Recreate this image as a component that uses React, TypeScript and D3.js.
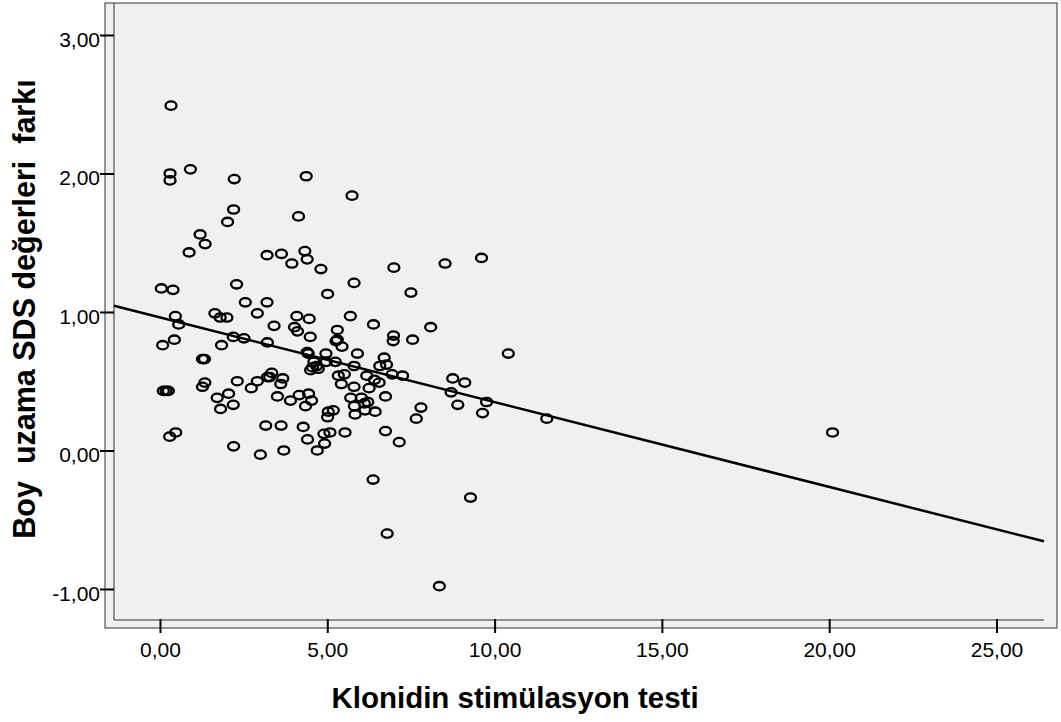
import React, { useRef, useEffect } from "react";
import * as d3 from "d3";

// klonidin test (x) vs boy uzama SDS farkı (y)
const klonidin = [
  0.33, 0.3, 0.3, 0.91, 2.22, 4.37, 5.74, 2.2, 2.02, 4.14, 1.2, 1.35, 0.87, 3.2, 3.63, 3.94, 4.33, 4.4, 4.81, 6.99,
  0.04, 0.39, 2.29, 5.01, 5.8, 2.55, 3.2, 2.91, 0.46, 0.56, 1.64, 1.8, 2.0, 3.41, 4.09, 4.46, 4.02, 5.3, 5.69, 6.38,
  4.11, 4.49, 5.3, 5.26, 5.44, 6.98, 6.97, 0.08, 0.43, 1.84, 2.19, 2.51, 3.21, 4.4, 4.43, 4.96, 5.24, 5.9, 4.6, 4.68,
  4.56, 4.5, 4.73, 4.97, 5.8, 6.7, 6.57, 6.77, 6.94, 7.25, 5.33, 5.51, 5.42, 5.8, 6.18, 6.25, 6.41, 6.55, 6.74, 5.7,
  6.02, 6.11, 6.21, 5.81, 5.83, 6.13, 6.43, 0.1, 0.18, 0.25, 1.27, 1.33, 1.34, 1.27, 1.71, 2.05, 1.81, 2.19, 2.31, 2.73,
  2.91, 3.21, 3.34, 3.28, 3.67, 3.61, 3.51, 3.9, 4.16, 4.44, 4.53, 4.35, 5.03, 5.18, 5.01, 3.16, 3.62, 4.28, 4.41, 4.9,
  5.08, 5.53, 4.92, 4.7, 6.74, 7.15, 0.29, 0.47, 2.2, 3.0, 3.7, 6.37, 7.5, 8.09, 7.55, 7.8, 7.66, 8.75, 9.11, 8.7,
  8.9, 9.76, 9.64, 10.41, 11.56, 8.52, 9.61, 9.28, 6.79, 8.35, 20.1,
];
const boyFark = [
  2.49, 2.0, 1.95, 2.03, 1.96, 1.98, 1.84, 1.74, 1.65, 1.69, 1.56, 1.49, 1.43, 1.41, 1.42, 1.35, 1.44, 1.38, 1.31, 1.32,
  1.17, 1.16, 1.2, 1.13, 1.21, 1.07, 1.07, 0.99, 0.97, 0.91, 0.99, 0.96, 0.96, 0.9, 0.97, 0.95, 0.89, 0.87, 0.97, 0.91,
  0.86, 0.82, 0.8, 0.79, 0.75, 0.83, 0.79, 0.76, 0.8, 0.76, 0.82, 0.81, 0.78, 0.71, 0.7, 0.7, 0.64, 0.7, 0.64, 0.61,
  0.6, 0.58, 0.59, 0.64, 0.61, 0.67, 0.61, 0.62, 0.55, 0.54, 0.54, 0.55, 0.48, 0.46, 0.54, 0.45, 0.51, 0.49, 0.39, 0.38,
  0.38, 0.34, 0.35, 0.32, 0.26, 0.29, 0.28, 0.43, 0.43, 0.43, 0.66, 0.66, 0.49, 0.46, 0.38, 0.41, 0.3, 0.33, 0.5, 0.45,
  0.5, 0.53, 0.56, 0.53, 0.52, 0.48, 0.39, 0.36, 0.4, 0.41, 0.36, 0.32, 0.28, 0.29, 0.24, 0.18, 0.18, 0.17, 0.08, 0.12,
  0.13, 0.13, 0.05, 0.0, 0.14, 0.06, 0.1, 0.13, 0.03, -0.03, 0.0, -0.21, 1.14, 0.89, 0.8, 0.31, 0.23, 0.52, 0.49, 0.42,
  0.33, 0.35, 0.27, 0.7, 0.23, 1.35, 1.39, -0.34, -0.6, -0.98, 0.13,
];

const xTicks = [0, 5, 10, 15, 20, 25];
const yTicks = [-1, 0, 1, 2, 3];

// fit line as drawn in the reference
const fitIntercept = 0.961;
const fitSlope = -0.0612;

const xTitle = "Klonidin stimülasyon testi";
const yTitle = "Boy  uzama SDS değerleri  farkı";

const W = 1061;
const H = 722;
const FONT = "'Liberation Sans', Arial, sans-serif";

const App = () => {
  const svgRef = useRef<SVGSVGElement>(null);

  useEffect(() => {
    const svg = d3.select(svgRef.current);
    svg.selectAll("*").remove();

    const x = d3.scaleLinear().domain([-1.374, 26.42]).range([114, 1044]);
    const y = d3.scaleLinear().domain([-1.224, 3.231]).range([620, 3]);
    // SPSS style: comma decimals, plain hyphen for minus
    const fmt = (v: number) => v.toFixed(2).replace(".", ",");

    // outer frame
    svg
      .append("rect")
      .attr("x", 105)
      .attr("y", 3)
      .attr("width", 1057 - 105)
      .attr("height", 628 - 3)
      .attr("fill", "#f0f0f0")
      .attr("stroke", "#333")
      .attr("stroke-width", 1);

    // inner axis lines
    svg
      .append("line")
      .attr("x1", 114)
      .attr("x2", 114)
      .attr("y1", 3)
      .attr("y2", 620)
      .attr("stroke", "#333");
    svg
      .append("line")
      .attr("x1", 114)
      .attr("x2", 1044)
      .attr("y1", 620)
      .attr("y2", 620)
      .attr("stroke", "#333");

    const yAxis = d3.axisLeft(y).tickValues(yTicks).tickSize(14).tickPadding(0).tickFormat(fmt as any);
    const gy = svg.append("g").attr("transform", "translate(114,0)").call(yAxis);
    gy.select(".domain").remove();
    gy.selectAll("line").attr("stroke", "#000").attr("stroke-width", 2);
    gy.selectAll("text")
      .attr("dy", "0.53em")
      .attr("font-family", FONT)
      .attr("font-size", 21)
      .attr("fill", "#000");

    const xAxis = d3.axisBottom(x).tickValues(xTicks).tickSize(14).tickPadding(9).tickFormat(fmt as any);
    const gx = svg.append("g").attr("transform", "translate(0,619)").call(xAxis);
    gx.select(".domain").remove();
    gx.selectAll("line").attr("stroke", "#000").attr("stroke-width", 2);
    gx.selectAll("text")
      .attr("font-family", FONT)
      .attr("font-size", 21)
      .attr("fill", "#000");

    // regression line across the plot
    const [x0, x1] = x.domain();
    svg
      .append("line")
      .attr("x1", x(x0))
      .attr("y1", y(fitIntercept + fitSlope * x0))
      .attr("x2", x(x1))
      .attr("y2", y(fitIntercept + fitSlope * x1))
      .attr("stroke", "#000")
      .attr("stroke-width", 2.5);

    const pts = klonidin.map((v, i) => [v, boyFark[i]]);
    svg
      .selectAll(".pt")
      .data(pts)
      .join("ellipse")
      .attr("class", "pt")
      .attr("cx", (d) => x(d[0]))
      .attr("cy", (d) => y(d[1]))
      .attr("rx", 5.5)
      .attr("ry", 4.2)
      .attr("fill", "none")
      .attr("stroke", "#000")
      .attr("stroke-width", 2.3);

    svg
      .append("text")
      .attr("x", 515)
      .attr("y", 708)
      .attr("text-anchor", "middle")
      .attr("font-family", FONT)
      .attr("font-weight", "bold")
      .attr("font-size", 29.5)
      .text(xTitle);

    svg
      .append("text")
      .attr("transform", "translate(35,309) rotate(-90)")
      .attr("text-anchor", "middle")
      .attr("font-family", FONT)
      .attr("font-weight", "bold")
      .attr("font-size", 30.5)
      .style("white-space", "pre")
      .text(yTitle);
  }, []);

  return (
    <svg
      ref={svgRef}
      width={W}
      height={H}
      style={{ position: "absolute", left: 0, top: 0, background: "#fff" }}
    />
  );
};

export default App;
